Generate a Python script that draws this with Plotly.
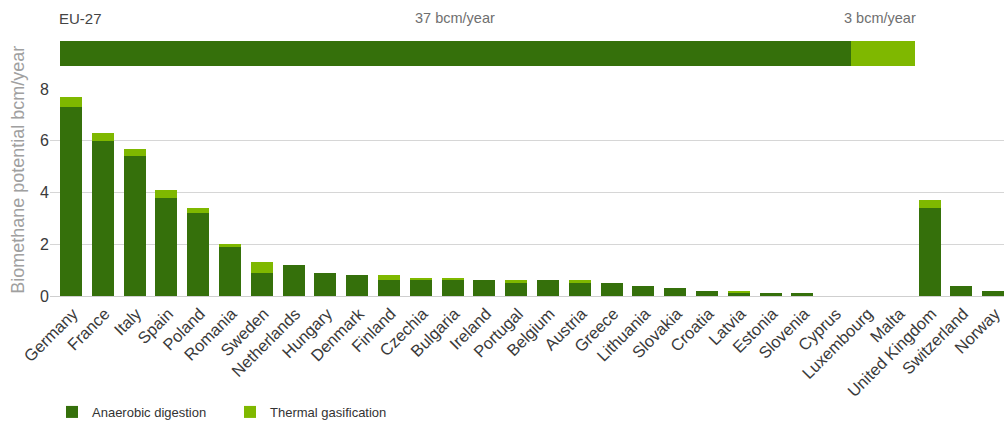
import plotly.graph_objects as go

countries = ["Germany", "France", "Italy", "Spain", "Poland", "Romania", "Sweden",
             "Netherlands", "Hungary", "Denmark", "Finland", "Czechia", "Bulgaria",
             "Ireland", "Portugal", "Belgium", "Austria", "Greece", "Lithuania",
             "Slovakia", "Croatia", "Latvia", "Estonia", "Slovenia", "Cyprus",
             "Luxembourg", "Malta", "United Kingdom", "Switzerland", "Norway"]
anaerobic = [7.3, 6.0, 5.4, 3.8, 3.2, 1.9, 0.9, 1.2, 0.9, 0.8, 0.6, 0.6, 0.6, 0.6, 0.5,
             0.6, 0.5, 0.5, 0.4, 0.3, 0.2, 0.1, 0.1, 0.1, 0.0, 0.0, 0.0, 3.4, 0.4, 0.2]
thermal = [0.4, 0.3, 0.3, 0.3, 0.2, 0.1, 0.4, 0.0, 0.0, 0.0, 0.2, 0.1, 0.1, 0.0, 0.1,
           0.0, 0.1, 0.0, 0.0, 0.0, 0.0, 0.1, 0.0, 0.0, 0.0, 0.0, 0.0, 0.3, 0.0, 0.0]
eu_label = "EU-27"
eu_anaerobic = 37
eu_thermal = 3
y_ticks = [0, 2, 4, 6, 8]

DARK = "#35700b"
LIGHT = "#7fb800"
FONT = "Liberation Sans, Arial, sans-serif"

fig = go.Figure()
fig.add_trace(go.Bar(x=countries, y=anaerobic, name="Anaerobic digestion",
                     marker=dict(color=DARK, line=dict(width=0)), width=0.69))
fig.add_trace(go.Bar(x=countries, y=thermal, name="Thermal gasification",
                     marker=dict(color=LIGHT, line=dict(width=0)), width=0.69))

fig.add_trace(go.Bar(x=[eu_anaerobic], y=[eu_label], orientation="h", xaxis="x2", yaxis="y2",
                     marker=dict(color=DARK, line=dict(width=0)), width=1, showlegend=False))
fig.add_trace(go.Bar(x=[eu_thermal], y=[eu_label], orientation="h", xaxis="x2", yaxis="y2",
                     marker=dict(color=LIGHT, line=dict(width=0)), width=1, showlegend=False))

main_top = (296 - 89) / 255.0
fig.update_layout(
    width=1004, height=425,
    margin=dict(l=50, r=0, t=41, b=129, autoexpand=False),
    barmode="stack",
    bargap=0,
    paper_bgcolor="white", plot_bgcolor="white",
    font=dict(family=FONT, color="#333333", size=14),
    xaxis=dict(domain=[0, 1], range=[-0.66, 29.34], tickangle=-45,
               showgrid=False, showline=False, zeroline=False, ticks="",
               tickfont=dict(size=16.5, color="#3a3a3a"), anchor="y", automargin=False,
               ticklabelstandoff=4, ticklabelshift=2),
    yaxis=dict(domain=[0, main_top], range=[0, 8], tickvals=y_ticks,
               showgrid=True, gridcolor="#d6d6d6", gridwidth=1,
               zeroline=True, zerolinecolor="#cfcfcf", zerolinewidth=1,
               showline=False, ticks="", tickfont=dict(size=16, color="#3a3a3a"),
               anchor="x", automargin=False),
    xaxis2=dict(domain=[0, 1], range=[-0.468, 44.16], visible=False, anchor="y2",
                automargin=False),
    yaxis2=dict(domain=[(296 - 66) / 255.0, 1.0], range=[-0.5, 0.5], visible=False,
                anchor="x2", automargin=False),
    legend=dict(orientation="h", x=0.0021, y=-0.396, xanchor="left", yanchor="top",
                font=dict(size=13, color="#333333"), traceorder="normal",
                entrywidth=133, entrywidthmode="pixels"),
    showlegend=True,
)

fig.add_annotation(text=eu_label, xref="x2", yref="paper", x=-0.15, y=1, yshift=23,
                   xanchor="left", yanchor="middle", showarrow=False,
                   font=dict(size=15, color="#444444"))
fig.add_annotation(text=f"{eu_anaerobic} bcm/year", xref="x2", yref="paper",
                   x=eu_anaerobic / 2, y=1, yshift=23, xanchor="center", yanchor="middle",
                   showarrow=False, font=dict(size=14.5, color="#6f6f6f"))
fig.add_annotation(text=f"{eu_thermal} bcm/year", xref="x2", yref="paper",
                   x=eu_anaerobic + eu_thermal / 2, y=1, yshift=23, xshift=-3, xanchor="center",
                   yanchor="middle", showarrow=False, font=dict(size=14.5, color="#6f6f6f"))
fig.add_annotation(text="Biomethane potential bcm/year", xref="paper", yref="paper",
                   x=-0.0335, y=0.495, textangle=-90, xanchor="center", yanchor="middle",
                   showarrow=False, font=dict(size=18, color="#a0a0a0"))

fig.write_html("out.html", config={"displayModeBar": False},
               post_script="document.body.style.margin='0';document.body.style.padding='0';"
                           "document.documentElement.style.overflow='hidden';")
